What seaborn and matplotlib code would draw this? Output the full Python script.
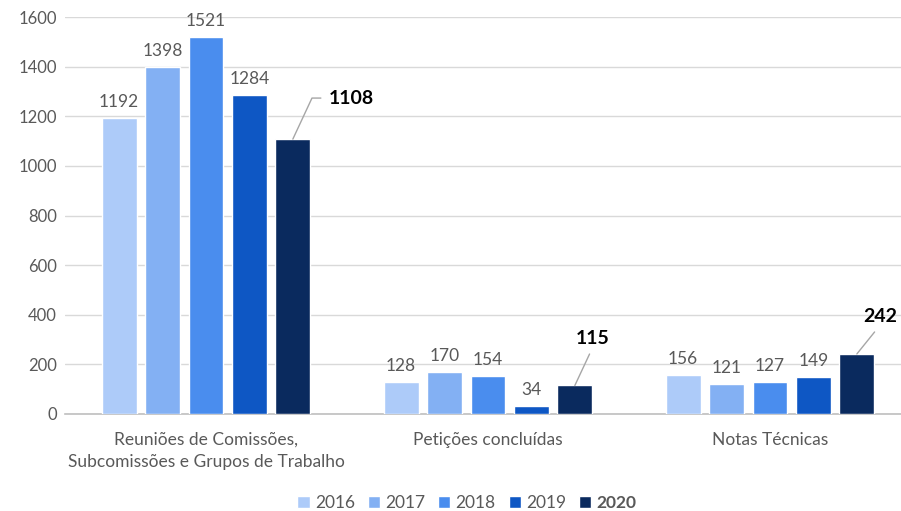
import pandas as pd
import matplotlib
matplotlib.use('Agg')
import matplotlib.pyplot as plt
import seaborn as sns

# Data
categorias = ['Reuniões de Comissões,\nSubcomissões e Grupos de Trabalho',
              'Petições concluídas',
              'Notas Técnicas']
anos = ['2016', '2017', '2018', '2019', '2020']
v2016 = [1192, 128, 156]
v2017 = [1398, 170, 121]
v2018 = [1521, 154, 127]
v2019 = [1284, 34, 149]
v2020 = [1108, 115, 242]
cores = ['#ADCBF9', '#83B0F3', '#4A8DEE', '#0E57C4', '#0A2A5E']

valores = [v2016, v2017, v2018, v2019, v2020]
rows = []
for ano, vals in zip(anos, valores):
    for cat, v in zip(categorias, vals):
        rows.append({'categoria': cat, 'ano': ano, 'valor': v})
df = pd.DataFrame(rows)

sns.set_style('white')
plt.rcParams['font.family'] = ['Lato', 'DejaVu Sans']
cinza = '#595959'

fig = plt.figure(figsize=(9.01, 5.11), dpi=100)
ax = fig.add_axes([65 / 901, 1 - 414 / 511, 846 / 901, 397 / 511])

sns.barplot(data=df, x='categoria', y='valor', hue='ano', palette=cores,
            saturation=1, width=0.77, gap=0.2, ax=ax, zorder=3)

ax.set_xlim(-0.5, 2.5)
ax.set_ylim(0, 1600)
ax.set_yticks(range(0, 1601, 200))
ax.yaxis.grid(True, color='#D9D9D9', linewidth=1, zorder=0)
ax.set_axisbelow(True)
for s in ['top', 'right', 'left']:
    ax.spines[s].set_visible(False)
ax.spines['bottom'].set_color('#BFBFBF')
ax.spines['bottom'].set_linewidth(1.2)
ax.tick_params(axis='y', length=0, labelsize=12, labelcolor=cinza, pad=6)
ax.tick_params(axis='x', length=0, labelsize=12.5, labelcolor=cinza, pad=13)
for t in ax.get_xticklabels():
    t.set_linespacing(1.45)
ax.set_xlabel('')
ax.set_ylabel('')

# data labels
offsets_2020 = [(58, 41), (18, 47), (23, 37)]
for i, cont in enumerate(ax.containers):
    for j, bar in enumerate(cont):
        x = bar.get_x() + bar.get_width() / 2
        h = bar.get_height()
        if i < 4:
            ax.annotate(f'{int(h)}', (x, h), xytext=(0, 8), textcoords='offset pixels',
                        ha='center', va='bottom', fontsize=12.5, color=cinza)
        else:
            dx, dy = offsets_2020[j]
            if j == 0:
                conn = 'angle,angleA=0,angleB=65,rad=0'
                rp = (0, 0.5)
            else:
                conn = 'arc3'
                rp = (0.5, 0)
            ax.annotate(f'{int(h)}', (x, h), xytext=(dx, dy), textcoords='offset pixels',
                        ha='center', va='center', fontsize=14, fontweight='bold',
                        color='#000000',
                        arrowprops=dict(arrowstyle='-', color='#A6A6A6', lw=1,
                                        connectionstyle=conn, relpos=rp,
                                        shrinkA=3, shrinkB=0))

handles, labels = ax.get_legend_handles_labels()
ax.get_legend().remove()
leg = fig.legend(handles, labels, loc='center', ncol=5, frameon=False,
                 bbox_to_anchor=(467 / 901, 1 - 503 / 511), fontsize=12.5, handlelength=0.7,
                 handleheight=0.7, handletextpad=0.3, columnspacing=0.75)
for t in leg.get_texts():
    t.set_color(cinza)
leg.get_texts()[-1].set_fontweight('bold')

fig.savefig('out.png', dpi=100)
